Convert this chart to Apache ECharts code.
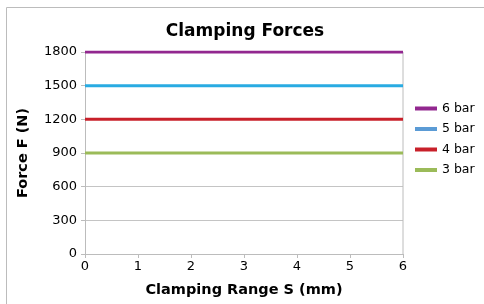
<!DOCTYPE html>
<html>
<head>
<meta charset="utf-8">
<script src="https://cdn.jsdelivr.net/npm/echarts@6/dist/echarts.min.js"></script>
<style>
    html, body { margin: 0; padding: 0; background: #fff; }
    #chart { width: 484px; height: 304px; }
</style>
</head>
<body>
<div id="chart"></div>
<script>
// data
const pressures = ['6 bar', '5 bar', '4 bar', '3 bar']
const forces = [1800, 1500, 1200, 900]
const rangeS = [0, 6]
const lineColors = ['#92278f', '#29abe2', '#c8202a', '#9bbb59']
const legendColors = ['#92278f', '#5b9bd5', '#c8202a', '#9bbb59']

const font = 'DejaVu Sans'
const chart = echarts.init(document.getElementById('chart'))

const option = {
    animation: false,
    title: {
        text: 'Clamping Forces',
        left: 240,
        textAlign: 'center',
        top: 18,
        textStyle: { fontFamily: font, fontSize: 17, fontWeight: 'bold', color: '#000' }
    },
    legend: {
        orient: 'vertical',
        left: 410,
        top: 97,
        itemWidth: 22,
        itemHeight: 4,
        itemGap: 7.5,
        icon: 'rect',
        data: pressures,
        textStyle: { fontFamily: font, fontSize: 12.5, color: '#000' }
    },
    grid: { left: 85, right: 81, top: 52, bottom: 50 },
    xAxis: {
        type: 'value',
        min: 0,
        max: 6,
        interval: 1,
        name: 'Clamping Range S (mm)',
        nameLocation: 'middle',
        nameGap: 29,
        nameTextStyle: { fontFamily: font, fontSize: 14.5, fontWeight: 'bold', color: '#000' },
        axisLine: { show: true, lineStyle: { color: '#bcbcbc', width: 1 } },
        axisTick: { show: true, length: 4, lineStyle: { color: '#bcbcbc' } },
        axisLabel: { fontFamily: font, fontSize: 13, color: '#000', margin: 6 },
        splitLine: { show: false }
    },
    yAxis: {
        type: 'value',
        min: 0,
        max: 1800,
        interval: 300,
        name: 'Force F (N)',
        nameLocation: 'middle',
        nameGap: 54,
        nameTextStyle: { fontFamily: font, fontSize: 14.5, fontWeight: 'bold', color: '#000' },
        axisLine: { show: true, lineStyle: { color: '#bcbcbc', width: 1 } },
        axisTick: { show: true, length: 4, lineStyle: { color: '#bcbcbc' } },
        axisLabel: { fontFamily: font, fontSize: 13, color: '#000', margin: 8, formatter: (v) => String(v) },
        splitLine: { show: true, lineStyle: { color: '#c4c4c4', width: 1 } }
    },
    series: pressures.map((name, i) => ({
        name: name,
        type: 'line',
        showSymbol: false,
        itemStyle: { color: legendColors[i] },
        lineStyle: { color: lineColors[i], width: 3 },
        data: rangeS.map((s) => [s, forces[i]])
    }))
}

chart.setOption(option)

// outer frame and right border of the plot area
const p0 = chart.convertToPixel({ gridIndex: 0 }, [6, 0])
const p1 = chart.convertToPixel({ gridIndex: 0 }, [6, 1800])
chart.setOption({
    graphic: [
        {
            type: 'rect',
            shape: { x: 6.5, y: 7.5, width: 1000, height: 1000 },
            style: { fill: 'none', stroke: '#bcbcbc', lineWidth: 1 },
            silent: true,
            z: 0
        },
        {
            type: 'line',
            shape: { x1: p0[0], y1: p0[1], x2: p1[0], y2: p1[1] },
            style: { stroke: '#bcbcbc', lineWidth: 1 },
            z: 1
        }
    ]
})
</script>
</body>
</html>
